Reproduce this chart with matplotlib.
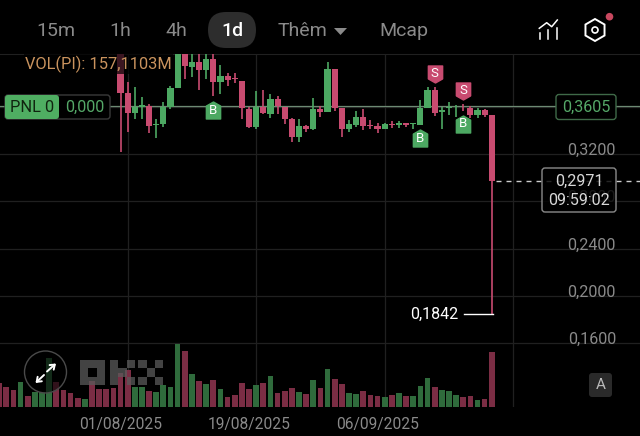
import matplotlib
matplotlib.use('Agg')
import matplotlib.pyplot as plt
from matplotlib.patches import FancyBboxPatch, Circle, Rectangle, RegularPolygon, Polygon
from matplotlib.path import Path
from matplotlib.transforms import ScaledTranslation

plt.rcParams['font.family'] = ['Roboto', 'DejaVu Sans']

# days counted from 01/08/2025
candle_days = list(range(-1, 52))
opens = [.4100, .3719, .3544, .3594, .3609, .3442, .3451, .3594, .3755, .4070, .3938, .3981, .3910, .4001,
         .3812, .3860, .3840, .3820, .3580, .3425, .3600, .3538, .3665, .3600, .3493, .3346, .3437, .3408,
         .3580, .3558, .3919, .3592, .3408, .3448, .3515, .3445, .3440, .3408, .3456, .3448, .3459, .3451,
         .3448, .3586, .3741, .3555, .3586, .3594, .3600, .3586, .3527, .3572, .3527]
highs = [.4150, .3806, .3769, .3685, .3620, .3493, .3642, .3775, .4120, .4120, .4100, .4060, .4070, .4060,
         .3953, .3882, .3882, .3820, .3594, .3736, .3741, .3707, .3690, .3600, .3501, .3493, .3442, .3676,
         .3606, .3978, .3919, .3592, .3487, .3566, .3577, .3487, .3465, .3459, .3482, .3476, .3465, .3465,
         .3656, .3769, .3764, .3594, .3637, .3614, .3623, .3606, .3586, .3577, .3527]
lows = [.3219, .3389, .3493, .3493, .3380, .3332, .3431, .3577, .3755, .3831, .3854, .3741, .3831, .3690,
        .3707, .3775, .3803, .3496, .3417, .3414, .3538, .3501, .3538, .3454, .3301, .3301, .3386, .3403,
        .3515, .3558, .3566, .3341, .3389, .3425, .3403, .3414, .3380, .3408, .3420, .3417, .3425, .3414,
        .3448, .3586, .3521, .3414, .3532, .3515, .3561, .3504, .3507, .3515, .1842]
closes = [.3719, .3544, .3600, .3614, .3437, .3454, .3600, .3761, .4080, .3944, .3981, .3910, .4001, .3812,
          .3860, .3826, .3831, .3592, .3431, .3600, .3544, .3665, .3606, .3493, .3346, .3437, .3408, .3580,
          .3555, .3919, .3586, .3414, .3451, .3515, .3437, .3437, .3408, .3454, .3445, .3462, .3448, .3459,
          .3586, .3741, .3549, .3572, .3594, .3600, .3594, .3532, .3572, .3532, .2971]

vol_days = list(range(-18, 52))
volumes = [67, 57, 48, 71, 30, 41, 41, 138, 71, 48, 38, 24, 23, 73, 50, 50, 52, 95, 105, 55, 57, 45, 43, 62,
           57, 179, 159, 92, 73, 64, 76, 51, 29, 32, 68, 50, 62, 69, 88, 38, 46, 52, 42, 35, 76, 52, 108, 79,
           65, 40, 36, 45, 32, 30, 28, 34, 39, 30, 30, 59, 83, 56, 48, 46, 32, 29, 30, 20, 22, 157]
vol_up = [0, 0, 0, 1, 0, 1, 1, 1, 0, 0, 0, 0, 1, 0, 0, 0, 0, 0, 0, 1, 1, 0, 1, 1,
          1, 1, 0, 1, 0, 1, 0, 1, 0, 0, 0, 0, 1, 0, 1, 0, 0, 0, 1, 0, 1, 0, 1, 0,
          0, 1, 1, 0, 0, 0, 1, 0, 1, 0, 1, 1, 1, 0, 1, 1, 1, 0, 0, 1, 0, 0]

date_ticks = [0, 18, 36, 54]
date_labels = ['01/08/2025', '19/08/2025', '06/09/2025', '']
price_ticks = [.32, .28, .24, .20, .16]
price_labels = ['0,3200', '0,2800', '0,2400', '0,2000', '0,1600']
extra_grid = [.36]
entry_price = .3605
last_price = .2971
low_price = .1842

tag_days = [12, 41, 47, 43, 47]
tag_prices = [.3572, .3335, .3454, .3877, .3733]
tag_texts = ['B', 'B', 'B', 'S', 'S']
tabs = ['15m', '1h', '4h', 'Thêm', 'Mcap']
tab_x = [56, 120.5, 176, 302, 404]

GREEN = '#4ca862'
RED = '#c84b70'
VGREEN = '#2f6b3c'
VRED = '#7b2d44'
GRID = '#202020'
GREY = '#8a8a8a'

fig = plt.figure(figsize=(6.4, 4.36), dpi=100, facecolor='black')
rect = [0, (436 - 406.7) / 436, 1, 352.7 / 436]

# volume panel, same area as the price panel
ax_vol = fig.add_axes(rect, zorder=2)
ax_vol.patch.set_alpha(0)
ax_vol.axis('off')
ax_vol.set_xlim(-17.88, 71.76)
ax_vol.set_ylim(0, 1007)
ax_vol.bar(vol_days, volumes, width=0.8, color=[VGREEN if u else VRED for u in vol_up])

ax = fig.add_axes(rect, zorder=1, facecolor='black')
ax.set_xlim(-17.88, 71.76)
ax.set_ylim(.32 - 252.7 / 1182.5, .32 + 100 / 1182.5)
for s in ax.spines.values():
    s.set_visible(False)
ax.spines['top'].set_visible(True)
ax.spines['top'].set_color(GRID)
ax.set_xticks(date_ticks)
ax.set_xticklabels(date_labels)
ax.set_yticks(price_ticks)
ax.set_yticklabels(price_labels)
ax.grid(True, color=GRID, lw=0.9)
ax.set_axisbelow(True)
for p in extra_grid:
    ax.axhline(p, color=GRID, lw=0.9, zorder=0)
ax.tick_params(axis='x', length=0, labelsize=11.2, labelcolor=GREY, pad=7.5)
ax.tick_params(axis='y', length=0, labelsize=11.6, labelcolor=GREY, labelleft=False, labelright=True, pad=0)
for lab in ax.get_xticklabels():
    lab.set_transform(lab.get_transform() + ScaledTranslation(-7 / 100, 0, fig.dpi_scale_trans))
for lab in ax.get_yticklabels():
    lab.set_ha('right')
    lab.set_transform(lab.get_transform() + ScaledTranslation(-24 / 100, 5 / 100, fig.dpi_scale_trans))

# entry line and last price line
ax.axhline(entry_price, color='#6d8a73', lw=0.9, zorder=1.5)
ax.plot([51.6, 71.76], [last_price, last_price], color='#cccccc', lw=1, dashes=(3.6, 3.6), zorder=1.5)

# candles
for d, o, h, l, c in zip(candle_days, opens, highs, lows, closes):
    col = GREEN if c >= o else RED
    ax.vlines(d, l, h, color=col, lw=1.2, zorder=3)
    ax.bar(d, abs(c - o), bottom=min(o, c), width=0.86, color=col, zorder=3)

# B / S tags
house = Path([(0, .5), (.42, .26), (.42, -.5), (-.42, -.5), (-.42, .26), (0, .5)], closed=True)
pent = Path([(0, -.5), (.42, -.26), (.42, .5), (-.42, .5), (-.42, -.26), (0, -.5)], closed=True)
for d, p, t in zip(tag_days, tag_prices, tag_texts):
    ax.scatter([d], [p], marker=house if t == 'B' else pent, s=150, color=GREEN if t == 'B' else RED,
               linewidths=1, edgecolors=GREEN if t == 'B' else RED, zorder=5)
    ax.text(d, p, t, color='white', fontsize=9.5, ha='center', va='center', zorder=6)

# everything drawn by the app on top of the chart, in pixels
ui = fig.add_axes([0, 0, 1, 1], zorder=5)
ui.set_xlim(0, 640)
ui.set_ylim(436, 0)
ui.axis('off')
ui.patch.set_alpha(0)


def box(x0, y0, x1, y1, r, **kw):
    ui.add_patch(FancyBboxPatch((x0 + r, y0 + r), x1 - x0 - 2 * r, y1 - y0 - 2 * r,
                                boxstyle=f'round,pad={r},rounding_size={r}', **kw))


# top tabs
box(208, 12, 256, 48, 18, fc='#2d2d2d', ec='none')
ui.text(232, 30.5, '1d', color='white', fontsize=14, ha='center', va='center', fontweight='medium')
for t, x in zip(tabs, tab_x):
    ui.text(x, 30.5, t, color=GREY, fontsize=14, ha='center', va='center')
ui.add_patch(Polygon([(334, 28), (347, 28), (340.5, 35)], fc=GREY, ec='none'))

# icons
ui.plot([539.3, 546.7, 551.7, 557.3], [28.3, 22.7, 26.7, 20], color='white', lw=1.1)
for x, y in zip([540, 548.3, 556.7], [33, 30, 28]):
    ui.plot([x, x], [y, 39], color='white', lw=1.1)
ui.add_patch(RegularPolygon((595, 30), 6, radius=11, fc='none', ec='white', lw=1.4))
ui.add_patch(Circle((595, 30), 3, fc='none', ec='white', lw=1.2))
ui.add_patch(Circle((609.5, 16.7), 3.8, fc='#c8485f', ec='none'))

# volume caption
ui.text(25, 64, 'VOL(PI): 157,1103M', color='#c9935e', fontsize=11.8, ha='left', va='center',
        bbox=dict(fc='black', ec='none', alpha=0.7, pad=1))

# pnl box
box(5, 95, 110, 119, 3, fc='black', ec='#3a3a3a', lw=1)
box(5, 95, 59, 119, 3, fc='#4fae62', ec='none')
ui.text(32, 107.5, 'PNL 0', color='#10240f', fontsize=11.8, ha='center', va='center')
ui.text(84.5, 107.5, '0,000', color='#55a868', fontsize=11.6, ha='center', va='center')

# price boxes
box(556, 94.5, 616, 119.5, 3, fc='black', ec='#3f6a48', lw=1)
ui.text(586, 107.5, '0,3605', color='#55a868', fontsize=11.6, ha='center', va='center')
box(542, 168, 616, 212, 3, fc=(0, 0, 0, 0.82), ec='#8a8a8a', lw=1)
ui.text(579, 181, '0,2971', color='#d8d8d8', fontsize=11.6, ha='center', va='center')
ui.text(579, 200, '09:59:02', color='#d8d8d8', fontsize=11.6, ha='center', va='center')

# low callout
ui.text(434.5, 314, '0,1842', color='white', fontsize=11.5, ha='center', va='center')
ui.plot([464, 493], [314, 314], color='white', lw=1)

# OKX watermark
cells = [(0, 0), (1, 0), (2, 0), (0, 1), (2, 1), (0, 2), (1, 2), (2, 2),
         (3.6, 0), (3.6, 1), (3.6, 2), (4.6, 1), (5.6, 0), (5.6, 2),
         (7, 0), (9, 0), (8, 1), (7, 2), (9, 2)]
for cx, cy in cells:
    ui.add_patch(Rectangle((80 + cx * 8.33, 360 + cy * 8.33), 8.33, 8.33, fc='#5a5a5a', ec='none', alpha=0.75))

# expand button
ui.add_patch(Circle((45.5, 372), 21, fc=(0, 0, 0, 0.6), ec='#4a4a4a', lw=1))
for a, b in [((47, 371.5), (56, 363.5)), ((44, 375), (35.5, 383))]:
    ui.annotate('', xy=b, xytext=a, arrowprops=dict(arrowstyle='->,head_width=0.22,head_length=0.3',
                                                    color='white', lw=1.4, shrinkA=0, shrinkB=0))

# auto scale button
box(589, 373, 612, 397, 3, fc='#2a2a2a', ec='none')
ui.text(600.5, 385, 'A', color='#bbbbbb', fontsize=11, ha='center', va='center')

fig.savefig('out.png', dpi=100, facecolor='black')
